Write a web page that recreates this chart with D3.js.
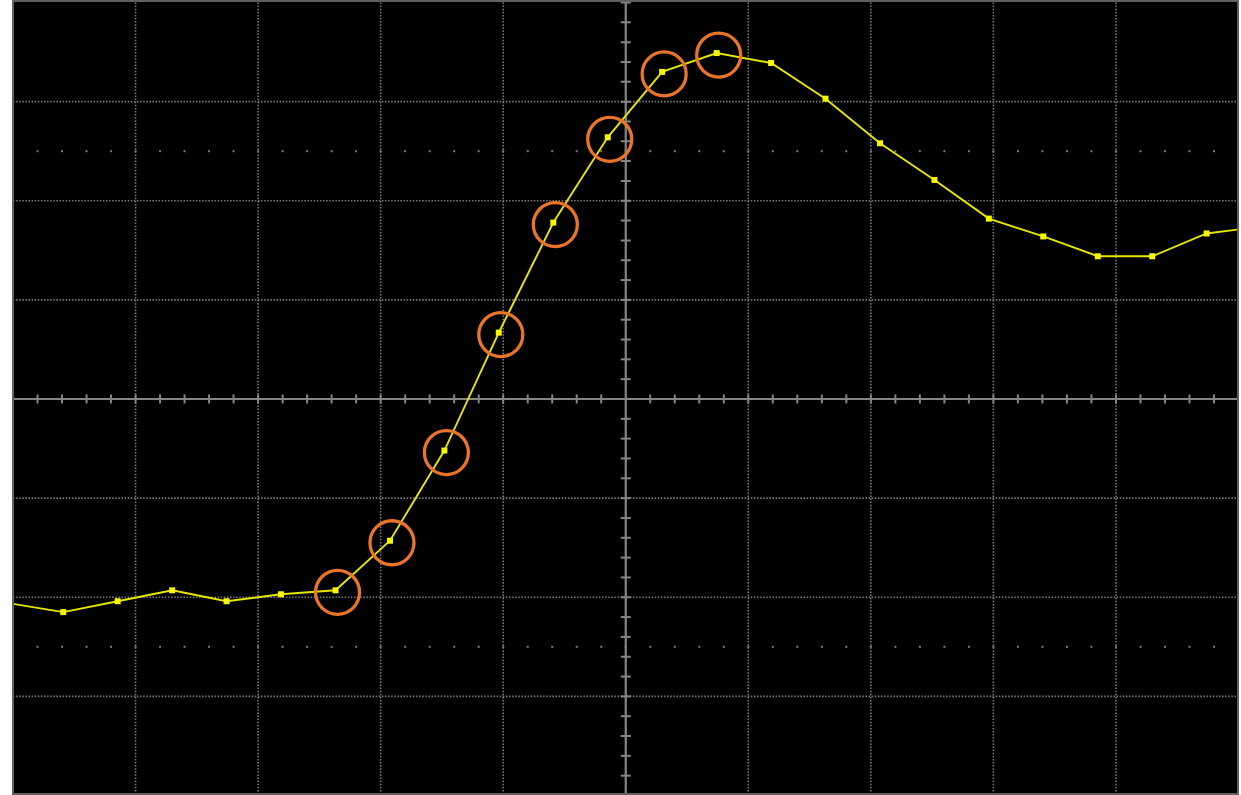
<!DOCTYPE html>
<html>
<head>
<meta charset="utf-8">
<script src="https://cdn.jsdelivr.net/npm/d3@7"></script>
<style>
  html, body { margin: 0; padding: 0; background: #ffffff; }
  svg { display: block; }
</style>
</head>
<body>
<svg id="scope" width="1241" height="795"></svg>
<script>
// Acquired samples: time in ns, voltage in mV (1 ns/div, 100 mV/div)
const sampleTimes = [-5.033, -4.590, -4.146, -3.701, -3.257, -2.813, -2.368, -1.924,
  -1.480, -1.036, -0.591, -0.147, 0.297, 0.742, 1.186, 1.630, 2.075, 2.519,
  2.963, 3.407, 3.852, 4.296, 4.740, 5.185];
const sampleVolts = [-206, -215, -204, -193, -204, -197, -193, -143,
  -52, 67, 178, 264, 330, 349, 339, 303, 258, 221,
  182, 164, 144, 144, 167, 174];
// Samples on the rising edge that are marked
const markedSamples = [6, 7, 8, 9, 10, 11, 12, 13];

// Screen graticule: 10 x 8 divisions, 5 minor ticks per division
const timeDivs = [-5, -4, -3, -2, -1, 0, 1, 2, 3, 4, 5];
const voltDivs = [-400, -300, -200, -100, 0, 100, 200, 300, 400];
const markerRows = [-250, 250];

const svg = d3.select("#scope");
const box = { left: 13, right: 1238.5, top: 2.5, bottom: 795.5 };

const x = d3.scaleLinear().domain([-5, 5]).range([box.left, box.right]);
const y = d3.scaleLinear().domain([-400, 400]).range([box.bottom, box.top]);

const gridColor = "#7a7a7a";
const axisColor = "#858585";

svg.append("defs").append("clipPath").attr("id", "screen")
  .append("rect")
  .attr("x", box.left).attr("y", 1)
  .attr("width", box.right - box.left).attr("height", 793);

// Screen background
svg.append("rect")
  .attr("x", 12).attr("y", 0)
  .attr("width", 1227).attr("height", 795)
  .attr("fill", "#000");

// Dotted graticule lines
const grid = svg.append("g").attr("clip-path", "url(#screen)");
grid.selectAll("line.v")
  .data(timeDivs.filter(d => d !== 0 && Math.abs(d) !== 5))
  .join("line")
  .attr("class", "v")
  .attr("x1", d => x(d)).attr("x2", d => x(d))
  .attr("y1", y(400)).attr("y2", y(-400))
  .attr("stroke", gridColor).attr("stroke-width", 1.6)
  .attr("stroke-dasharray", "1.5,1.6");
grid.selectAll("line.h")
  .data(voltDivs.filter(d => d !== 0 && Math.abs(d) !== 400))
  .join("line")
  .attr("class", "h")
  .attr("x1", x(-5)).attr("x2", x(5))
  .attr("y1", d => y(d)).attr("y2", d => y(d))
  .attr("stroke", gridColor).attr("stroke-width", 1.6)
  .attr("stroke-dasharray", "1.5,1.6");

// Sparse marker dots at +/- 2.5 div
const minorT = d3.range(-24, 25).map(i => i / 5);
markerRows.forEach(v => {
  grid.selectAll(null)
    .data(minorT)
    .join("rect")
    .attr("x", t => x(t) - 1).attr("y", y(v) - 1)
    .attr("width", 2).attr("height", 2)
    .attr("fill", gridColor);
});

// Center axes with minor ticks
const axes = svg.append("g").attr("clip-path", "url(#screen)");
axes.append("line")
  .attr("x1", x(-5)).attr("x2", x(5))
  .attr("y1", y(0)).attr("y2", y(0))
  .attr("stroke", axisColor).attr("stroke-width", 2.2);
axes.append("line")
  .attr("x1", x(0)).attr("x2", x(0))
  .attr("y1", y(400)).attr("y2", y(-400))
  .attr("stroke", axisColor).attr("stroke-width", 2.2);

const xMinor = d3.range(-25, 26).map(i => i / 5).filter(t => t !== 0);
axes.selectAll("line.xt")
  .data(xMinor)
  .join("line")
  .attr("class", "xt")
  .attr("x1", d => x(d)).attr("x2", d => x(d))
  .attr("y1", y(0) - 4.5).attr("y2", y(0) + 4.5)
  .attr("stroke", axisColor).attr("stroke-width", 2);

const yMinor = d3.range(-20, 21).map(i => i * 20).filter(v => v !== 0);
axes.selectAll("line.yt")
  .data(yMinor)
  .join("line")
  .attr("class", "yt")
  .attr("x1", x(0) - 5).attr("x2", x(0) + 5)
  .attr("y1", d => y(d)).attr("y2", d => y(d))
  .attr("stroke", axisColor).attr("stroke-width", 2);

// Trace
const samples = sampleTimes.map((t, i) => ({ t, v: sampleVolts[i], i }));
const trace = svg.append("g").attr("clip-path", "url(#screen)");
trace.append("path")
  .datum(samples)
  .attr("d", d3.line().x(d => x(d.t)).y(d => y(d.v)))
  .attr("fill", "none")
  .attr("stroke", "#e6e600")
  .attr("stroke-width", 1.9);

trace.selectAll("rect.pt")
  .data(samples)
  .join("rect")
  .attr("class", "pt")
  .attr("x", d => x(d.t) - 3).attr("y", d => y(d.v) - 3)
  .attr("width", 6).attr("height", 6)
  .attr("fill", "#f6f600");

// Highlight rings around the edge samples
svg.append("g")
  .attr("transform", "translate(2,2)")
  .selectAll("circle")
  .data(markedSamples.map(i => samples[i]))
  .join("circle")
  .attr("cx", d => x(d.t)).attr("cy", d => y(d.v))
  .attr("r", 22)
  .attr("fill", "none")
  .attr("stroke", "#ea7428")
  .attr("stroke-width", 3.3);

// Bezel
svg.append("rect")
  .attr("x", 13).attr("y", 1)
  .attr("width", 1225).attr("height", 793)
  .attr("fill", "none")
  .attr("stroke", "#606060")
  .attr("stroke-width", 2);
</script>
</body>
</html>
